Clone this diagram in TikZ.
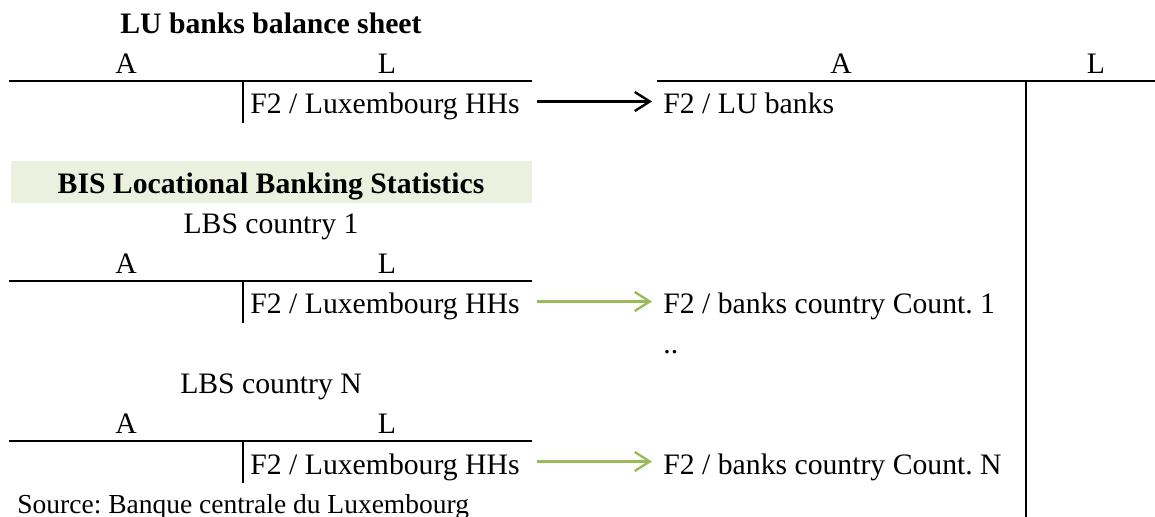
\documentclass[tikz,border=0pt]{standalone}
\usepackage{fontspec}
\setmainfont{Liberation Serif}
\usetikzlibrary{arrows.meta}
\definecolor{lbsgreen}{HTML}{9BBB59}
\definecolor{lbsfill}{HTML}{EBF1DE}
\frenchspacing

\begin{document}
\begin{tikzpicture}[x=0.5pt,y=-0.5pt,
  every node/.style={inner sep=0pt,font=\fontsize{14.85pt}{17pt}\selectfont},
  cell/.style={anchor=base},
  entry/.style={anchor=base west},
  headline/.style={anchor=base,font=\fontsize{14.85pt}{17pt}\selectfont\bfseries},
  rule/.style={line width=1.1pt},
  flow/.style={line width=1.2pt,-{Straight Barb[length=7.5pt,width=9.5pt]},shorten <=8.5pt,shorten >=5.5pt}]

\useasboundingbox (0,0) rectangle (1155,517);

% LU banks balance sheet
\node[headline] (lutitle) at (271,34) {LU banks balance sheet};
\node[cell] (luA) at (126,74) {A};
\node[cell] (luL) at (387,74) {L};
\draw[rule] (9,81) -- (532,81);
\draw[rule] (243,81) -- (243,123);
\node[entry] (hh0) at (250,114) {F2 / Luxembourg HHs};

% BIS Locational Banking Statistics
\fill[lbsfill] (11,161) rectangle (532,203);
\node[headline] (bis) at (271,194) {BIS Locational Banking Statistics};

\foreach \i/\dy in {1/0,N/160}{
  \begin{scope}[shift={(0,\dy)}]
  \node[cell] (lbs\i) at (271,234) {LBS country \i};
  \node[cell] (lbsA\i) at (126,274) {A};
  \node[cell] (lbsL\i) at (387,274) {L};
  \draw[rule] (9,281) -- (532,281);
  \draw[rule] (243,281) -- (243,323);
  \node[entry] (hh\i) at (250,314) {F2 / Luxembourg HHs};
  \end{scope}
}

% receiving side
\draw[rule] (657,81) -- (1155,81);
\draw[rule] (1026,81) -- (1026,517);
\node[cell] (rA) at (841,74) {A};
\node[cell] (rL) at (1096,74) {L};
\node[entry] (lu) at (663,114) {F2 / LU banks};
\node[entry] (cnt1) at (663,314) {F2 / banks country Count. 1};
\node[entry] (dots) at (663,354) {..};
\node[entry] (cntN) at (663,474) {F2 / banks country Count. N};

\draw[flow] ([yshift=6.25pt]hh0.base east) -- ([yshift=6.25pt]lu.base west);
\draw[flow,lbsgreen] ([yshift=6.25pt]hh1.base east) -- ([yshift=6.25pt]cnt1.base west);
\draw[flow,lbsgreen] ([yshift=6.25pt]hhN.base east) -- ([yshift=6.25pt]cntN.base west);

\node[entry,font=\fontsize{13.75pt}{16pt}\selectfont] (source) at (17,513) {Source: Banque centrale du Luxembourg};

\end{tikzpicture}
\end{document}
